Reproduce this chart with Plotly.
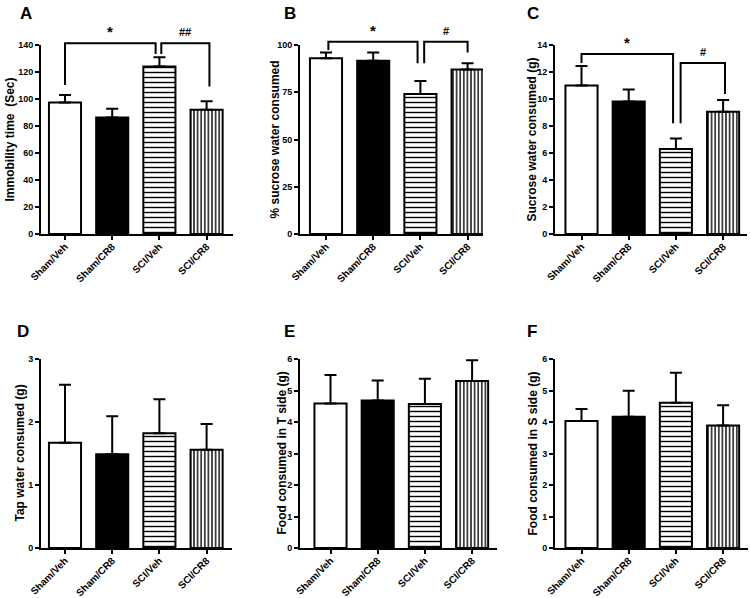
import plotly.graph_objects as go

# ---------------- data ----------------
categories = ["Sham/Veh", "Sham/CR8", "SCI/Veh", "SCI/CR8"]

immobility_mean = [97.4, 86.3, 124.0, 92.0]
immobility_sem = [5.6, 6.4, 7.0, 6.3]

sucrose_pct_mean = [93.0, 91.7, 74.1, 87.1]
sucrose_pct_sem = [3.0, 4.3, 6.9, 3.2]

sucrose_g_mean = [11.0, 9.82, 6.3, 9.06]
sucrose_g_sem = [1.44, 0.89, 0.78, 0.86]

tap_mean = [1.67, 1.49, 1.82, 1.56]
tap_sem = [0.92, 0.60, 0.54, 0.41]

food_t_mean = [4.59, 4.68, 4.57, 5.30]
food_t_sem = [0.90, 0.64, 0.80, 0.66]

food_s_mean = [4.03, 4.17, 4.61, 3.89]
food_s_sem = [0.38, 0.82, 0.95, 0.64]

panel_letters = ["A", "B", "C", "D", "E", "F"]
y_titles = ["Immobility time  (Sec)", "% sucrose water consumed", "Sucrose water consumed (g)",
            "Tap water consumed (g)", "Food consumed in T side (g)", "Food consumed in S side (g)"]
y_max = [140, 100, 14, 3, 6, 6]
y_dtick = [20, 25, 2, 1, 1, 1]

# significance brackets: (x_left, x_right, y_left_end, y_top, y_right_end, label, label_x)
brackets = {
    0: [(0.0, 1.92, 110.4, 141.3, 133.3, "*", 0.96),
        (2.04, 3.06, 133.3, 141.3, 109.2, "##", 2.55)],
    1: [(0.05, 1.94, 97.4, 101.7, 90.3, "*", 0.99),
        (2.08, 3.0, 90.3, 101.7, 96.0, "#", 2.55)],
    2: [(0.0, 1.94, 12.67, 13.33, 8.2, "*", 0.97),
        (2.1, 3.04, 8.2, 12.67, 10.37, "#", 2.57)],
}

means = [immobility_mean, sucrose_pct_mean, sucrose_g_mean, tap_mean, food_t_mean, food_s_mean]
sems = [immobility_sem, sucrose_pct_sem, sucrose_g_sem, tap_sem, food_t_sem, food_s_sem]

# ---------------- layout geometry (pixels) ----------------
W, H = 750, 598
# (axis left px, axis right px, first bar centre px)
x_geom = [(41, 233, 65), (300, 483, 326), (555, 747, 581.5),
          (41, 232, 65), (300, 497, 330.5), (555, 748, 581.5)]
row_px = [(45, 234), (45, 234), (45, 234), (359, 548), (359, 548), (359, 548)]
title_x_px = [9, 274, 531, 19, 281, 532]
letter_px = [(18, 14), (282, 14), (525, 14), (15, 331), (282, 331), (525, 331)]
step = 47.2

FONT = "Liberation Sans, Arial, sans-serif"

fig = go.Figure()
shapes = []
annotations = []

fill_colors = ["white", "black", "white", "white"]
pattern_shapes = ["", "", "-", "|"]
pattern_sizes = [6, 6, 5, 3.6]
pattern_sol = [0.3, 0.3, 0.28, 0.38]

for i in range(6):
    n = i + 1
    xa = "x" if n == 1 else f"x{n}"
    ya = "y" if n == 1 else f"y{n}"
    L, R, c0 = x_geom[i]
    top_px, bot_px = row_px[i]

    for k in range(4):
        pat = dict(shape=pattern_shapes[k], size=pattern_sizes[k], solidity=pattern_sol[k],
                   fgcolor="black", bgcolor="white", fillmode="replace") if pattern_shapes[k] else dict(shape="")
        fig.add_trace(go.Bar(
            x=[k], y=[means[i][k]], width=0.68,
            marker=dict(color=fill_colors[k], line=dict(color="black", width=2), pattern=pat),
            error_y=dict(type="data", symmetric=False, array=[sems[i][k]], arrayminus=[0],
                         color="black", thickness=2, width=6),
            xaxis=xa, yaxis=ya, showlegend=False, hoverinfo="skip",
        ))

    xr = [-(c0 - L) / step, (R - c0) / step]
    fig.layout[("xaxis" if n == 1 else f"xaxis{n}")] = dict(
        domain=[L / W, R / W], range=xr, anchor=ya, automargin=False,
        tickmode="array", tickvals=[0, 1, 2, 3], ticktext=categories, tickangle=-45,
        ticklabelstandoff=-3,
        ticks="outside", ticklen=4, tickwidth=2, tickcolor="black",
        showline=True, linecolor="black", linewidth=2, showgrid=False, zeroline=False,
        tickfont=dict(family=FONT, size=10, color="black", weight="bold"),
    )
    fig.layout[("yaxis" if n == 1 else f"yaxis{n}")] = dict(
        domain=[1 - bot_px / H, 1 - top_px / H], range=[0, y_max[i]], anchor=xa,
        automargin=False,
        tick0=0, dtick=y_dtick[i], ticks="outside", ticklen=4, tickwidth=1.5,
        tickcolor="black", showline=True, linecolor="black", linewidth=2,
        showgrid=False, zeroline=False,
        tickfont=dict(family=FONT, size=9, color="black", weight="bold"),
    )

    # y title
    annotations.append(dict(
        text=y_titles[i], x=title_x_px[i] / W, y=1 - (top_px + bot_px) / 2 / H,
        xref="paper", yref="paper", textangle=-90, showarrow=False,
        xanchor="center", yanchor="middle",
        font=dict(family=FONT, size=12, color="black", weight="bold")))
    # panel letter
    lx, ly = letter_px[i]
    annotations.append(dict(
        text=panel_letters[i], x=lx / W, y=1 - ly / H, xref="paper", yref="paper",
        showarrow=False, xanchor="left", yanchor="middle",
        font=dict(family=FONT, size=17, color="black", weight="bold")))

    for (bx0, bx1, by0, btop, by1, lab, labx) in brackets.get(i, []):
        yd = f"{ya} domain"
        m = y_max[i]
        path = (f"M {bx0},{by0 / m} L {bx0},{btop / m} L {bx1},{btop / m} L {bx1},{by1 / m}")
        shapes.append(dict(type="path", xref=xa, yref=yd, path=path,
                           line=dict(color="black", width=2)))
        annotations.append(dict(
            text=lab, x=labx, y=btop / m, xref=xa, yref=yd, showarrow=False,
            xanchor="center", yanchor="bottom", yshift=1 if lab == "*" else 3,
            font=dict(family=FONT, size=15 if lab == "*" else 11, color="black", weight="bold")))

fig.update_layout(
    width=W, height=H, margin=dict(l=0, r=0, t=0, b=0, autoexpand=False),
    paper_bgcolor="white", plot_bgcolor="white", barmode="overlay",
    shapes=shapes, annotations=annotations,
)

fig.write_html("out.html", config={"displayModeBar": False},
               post_script="document.body.style.margin='0';document.body.style.padding='0';"
                           "document.body.style.overflow='hidden';")
